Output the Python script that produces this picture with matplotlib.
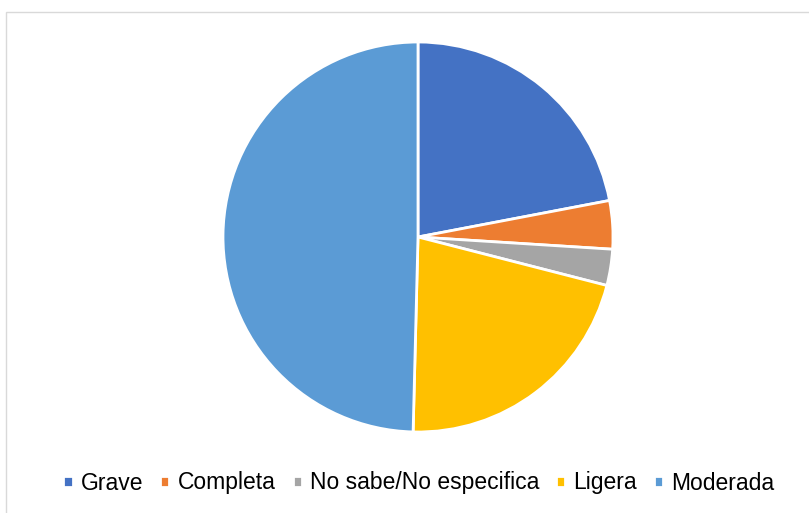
import matplotlib.pyplot as plt
from matplotlib.patches import Rectangle

# -------------------------
# Data
# -------------------------
labels = ["Grave", "Completa", "No sabe/No especifica", "Ligera", "Moderada"]
values = [22, 4, 3, 21.4, 49.6]
colors = ["#4472C4", "#ED7D31", "#A5A5A5", "#FFC000", "#5B9BD5"]

plt.rcParams["font.family"] = ["Liberation Sans", "DejaVu Sans"]

# -------------------------
# Plot
# -------------------------
W, H = 809, 513
fig = plt.figure(figsize=(W / 100, H / 100), dpi=100)

# chart area border
fig.patches.append(Rectangle((6 / W, -0.05), 1.1, 1 - 12 / H + 0.05,
                             transform=fig.transFigure, fill=False,
                             edgecolor="#D9D9D9", linewidth=1))

cx, cy, r = 418, 237, 195
ax = fig.add_axes([(cx - r) / W, 1 - (cy + r) / H, 2 * r / W, 2 * r / H])

wedges, _ = ax.pie(
    values,
    colors=colors,
    startangle=90,
    counterclock=False,
    radius=1,
    wedgeprops=dict(edgecolor="white", linewidth=2),
)
ax.set_xlim(-1, 1)
ax.set_ylim(-1, 1)
ax.set_aspect("equal")
ax.axis("off")

fig.legend(
    wedges, labels,
    loc="center", bbox_to_anchor=(419 / W, 1 - 483 / H),
    ncol=5, frameon=False, fontsize=16.5,
    handlelength=0.4, handleheight=0.4, handletextpad=0.35,
    columnspacing=0.75,
)

plt.savefig("out.png", dpi=100)
plt.close()
